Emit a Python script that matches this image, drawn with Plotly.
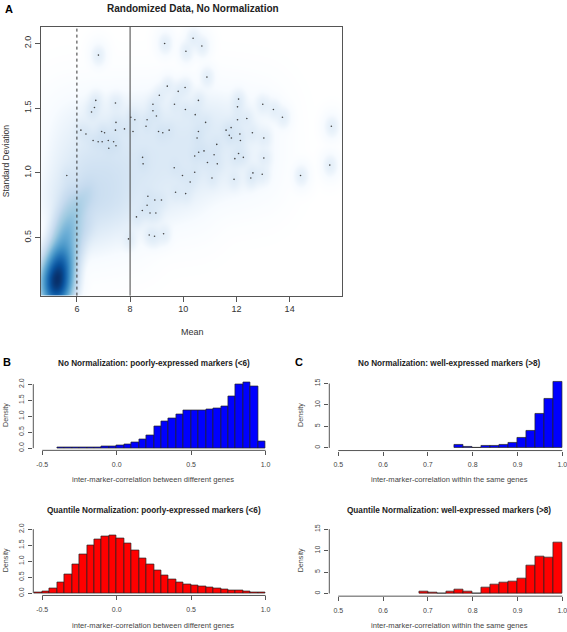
import numpy as np
import plotly.graph_objects as go

W, H = 567, 632

# ---------------- Panel A data ----------------
# low-density genes shown as individual points (mean, sd)
dot_mean = [6.81, 9.30, 10.37, 10.70, 10.10, 10.89, 9.40, 10.07, 9.81, 9.10, 6.71, 7.45, 6.66, 6.55,
            8.86, 9.67, 10.57, 10.08, 8.86, 8.03, 8.18, 8.64, 8.99, 10.45, 7.47, 8.60, 6.15, 6.34,
            6.93, 7.04, 7.45, 7.79, 8.11, 9.07, 9.23, 9.47, 10.57, 10.84, 6.61, 6.80, 6.95, 7.18,
            7.38, 7.20, 7.47, 10.52, 10.43, 10.58, 10.78, 10.91, 11.16, 11.26, 11.28, 11.08, 9.66,
            9.97, 10.43, 10.26, 8.47, 8.49, 11.61, 11.73, 11.80, 11.81, 12.04, 12.08, 12.04, 12.13,
            12.15, 12.08, 11.94, 12.26, 12.39, 12.60, 13.03, 13.03, 12.99, 13.39, 13.73, 11.91,
            12.54, 12.62, 12.97, 14.41, 15.57, 15.51, 5.62, 8.67, 8.64, 8.93, 9.18, 9.71, 10.09,
            8.46, 8.75, 8.97, 8.24, 8.72, 8.92, 9.26, 7.94]
dot_sd = [1.91, 2.00, 2.04, 1.98, 1.94, 1.74, 1.67, 1.66, 1.63, 1.60, 1.56, 1.54, 1.505, 1.47,
          1.53, 1.53, 1.56, 1.49, 1.48, 1.43, 1.41, 1.41, 1.44, 1.45, 1.39, 1.36, 1.33, 1.30,
          1.32, 1.31, 1.33, 1.34, 1.32, 1.32, 1.31, 1.33, 1.32, 1.39, 1.25, 1.24, 1.24, 1.25,
          1.24, 1.19, 1.21, 1.27, 1.13, 1.16, 1.17, 1.08, 1.14, 1.22, 1.07, 0.96, 1.04,
          0.98, 1.005, 0.93, 1.12, 1.07, 1.33, 1.29, 1.35, 1.27, 1.41, 1.57, 1.51, 1.30,
          1.25, 1.15, 1.11, 1.12, 1.42, 1.31, 1.27, 1.115, 1.53, 1.49, 1.43, 0.95,
          0.96, 1.00, 0.99, 0.98, 1.36, 1.06, 0.98, 0.82, 0.75, 0.79, 0.79, 0.85, 0.84,
          0.71, 0.69, 0.69, 0.66, 0.52, 0.51, 0.53, 0.49]

# dense core of the smoothed cloud (mean, sd, relative intensity)
core_mean = [5.24, 5.34, 5.14]
core_sd = [0.17, 0.27, 0.11]
core_w = [1000, 350, 250]

# ridge rising from the core
ridge_mean = [5.40, 5.50, 5.60, 5.72, 5.85, 6.00, 6.20, 6.45,
              5.25, 5.35, 5.45, 5.60, 5.75,
              5.70, 5.90, 6.10, 6.35]
ridge_sd = [0.30, 0.40, 0.50, 0.58, 0.66, 0.73, 0.79, 0.85,
            0.38, 0.50, 0.62, 0.72, 0.82,
            0.35, 0.45, 0.55, 0.62]
ridge_w = [150, 100, 65, 42, 26, 16, 10, 6,
           50, 30, 18, 10, 6,
           40, 22, 12, 6]

# broad light cloud
cloud_mean = [5.6, 6.4, 7.2, 8.0, 8.8, 9.6, 10.4, 11.2, 12.0, 12.8,
              5.6, 6.4, 7.2, 8.0, 8.8, 9.6, 10.4, 11.2, 12.0, 12.8,
              5.6, 6.4, 7.2, 8.0, 8.8, 9.6, 10.4, 11.2, 12.0, 12.8,
              5.6, 6.4, 7.2, 8.0, 8.8, 9.6, 10.4,
              6.4, 7.2, 8.0]
cloud_sd = [1.4] * 10 + [1.2] * 10 + [1.0] * 10 + [0.8] * 7 + [0.6] * 3
cloud_w = [0.3, 0.7, 0.9, 1.0, 1.3, 1.5, 1.7, 1.3, 0.7, 0.25,
           0.7, 1.8, 2.2, 2.2, 2.2, 2.2, 2.3, 1.9, 1.0, 0.35,
           1.3, 5.0, 5.0, 3.0, 2.2, 1.7, 1.5, 1.0, 0.5, 0.2,
           3.4, 8.0, 6.0, 2.2, 1.3, 0.7, 0.35,
           2.2, 1.0, 0.4]

# ---------------- Histogram data ----------------
b_edges = [-0.40, -0.35, -0.30, -0.25, -0.20, -0.15, -0.10, -0.05, 0.00, 0.05, 0.10, 0.15, 0.20, 0.25,
           0.30, 0.35, 0.40, 0.45, 0.50, 0.55, 0.60, 0.65, 0.70, 0.75, 0.80, 0.85, 0.90, 0.95]
b_density = [0.01, 0.01, 0.01, 0.02, 0.02, 0.03, 0.04, 0.06, 0.08, 0.12, 0.18, 0.27, 0.40, 0.67,
             0.84, 0.93, 1.06, 1.18, 1.17, 1.19, 1.22, 1.24, 1.31, 1.62, 2.00, 2.07, 1.92, 0.22]

d_edges = [-0.55, -0.50, -0.45, -0.40, -0.35, -0.30, -0.25, -0.20, -0.15, -0.10, -0.05, 0.00, 0.05,
           0.10, 0.15, 0.20, 0.25, 0.30, 0.35, 0.40, 0.45, 0.50, 0.55, 0.60, 0.65, 0.70, 0.75, 0.80,
           0.85, 0.90, 0.95]
d_density = [0.02, 0.07, 0.16, 0.33, 0.58, 0.91, 1.21, 1.48, 1.69, 1.78, 1.80, 1.71, 1.55, 1.33,
             1.10, 0.91, 0.72, 0.56, 0.44, 0.35, 0.29, 0.25, 0.21, 0.18, 0.16, 0.13, 0.10, 0.08,
             0.05, 0.02, 0.02]

c_edges = [0.76, 0.78, 0.80, 0.82, 0.84, 0.86, 0.88, 0.90, 0.92, 0.94, 0.96, 0.98]
c_density = [0.8, 0.3, 0.1, 0.4, 0.55, 0.8, 1.1, 2.4, 4.1, 8.0, 11.5, 15.5]

e_edges = [0.68, 0.70, 0.72, 0.74, 0.76, 0.78, 0.80, 0.82, 0.84, 0.86, 0.88, 0.90, 0.92, 0.94, 0.96, 0.98]
e_density = [0.45, 0.25, 0.0, 0.45, 0.85, 0.45, 0.0, 1.3, 2.15, 2.55, 2.75, 3.55, 6.55, 8.6, 8.45, 11.8]

corr_ticks_wide = [-0.5, 0.0, 0.5, 1.0]
corr_ticks_narrow = [0.5, 0.6, 0.7, 0.8, 0.9, 1.0]

# ---------------- helpers ----------------
def fx(px):
    return px / W

def fy(py):
    return 1 - py / H

FONT = "Liberation Sans, Arial, sans-serif"

# ---------------- density image for panel A ----------------
xr = [4.65, 15.97]
yr = [0.052, 2.128]
gx = np.linspace(xr[0], xr[1], 300)
gy = np.linspace(yr[0], yr[1], 270)
GX, GY = np.meshgrid(gx, gy)
dens = np.zeros_like(GX)

def add(xs, ys, ws, sx, sy):
    global dens
    for xi, yi, wi in zip(xs, ys, ws):
        dens += wi * np.exp(-0.5 * (((GX - xi) / sx) ** 2 + ((GY - yi) / sy) ** 2))

add(core_mean, core_sd, core_w, 0.25, 0.085)
add(ridge_mean, ridge_sd, ridge_w, 0.2, 0.07)
add(cloud_mean, cloud_sd, cloud_w, 0.45, 0.12)
add(dot_mean, dot_sd, [1.8] * len(dot_mean), 0.15, 0.045)
z = (dens / dens.max()) ** 0.25

blues = ["#FFFFFF", "#F7FBFF", "#DEEBF7", "#C6DBEF", "#9ECAE1", "#6BAED6",
         "#4292C6", "#2171B5", "#08519C", "#08306B"]
cscale = [[i / 9, c] for i, c in enumerate(blues)]

fig = go.Figure()
fig.add_trace(go.Heatmap(x=gx, y=gy, z=z, colorscale=cscale, zmin=0, zmax=1,
                         showscale=False, zsmooth="best", hoverinfo="skip",
                         xaxis="x", yaxis="y"))
fig.add_trace(go.Scatter(x=dot_mean, y=dot_sd, mode="markers",
                         marker=dict(size=1.6, color="#444444"),
                         xaxis="x", yaxis="y", showlegend=False, hoverinfo="skip"))

def add_hist(edges, dens_vals, width, color, xa, ya):
    centers = [e + width / 2 for e in edges]
    fig.add_trace(go.Bar(x=centers, y=dens_vals, width=width,
                         marker=dict(color=color, line=dict(color="#222222", width=0.7)),
                         xaxis=xa, yaxis=ya, showlegend=False, hoverinfo="skip"))

add_hist(b_edges, b_density, 0.05, "#0000FF", "x2", "y2")
add_hist(c_edges, c_density, 0.02, "#0000FF", "x3", "y3")
add_hist(d_edges, d_density, 0.05, "#FF0000", "x4", "y4")
add_hist(e_edges, e_density, 0.02, "#FF0000", "x5", "y5")

axcol = "#555555"
main_tick = dict(family=FONT, size=9, color="#333333")
small_tick = dict(family=FONT, size=7, color="#444444")

layout = dict(
    width=W, height=H, margin=dict(l=0, r=0, t=0, b=0),
    paper_bgcolor="white", plot_bgcolor="white", showlegend=False, bargap=0,
    font=dict(family=FONT),
    xaxis=dict(domain=[fx(41), fx(342)], range=xr, anchor="y", showgrid=False, zeroline=False,
               showline=True, mirror=True, linecolor=axcol, linewidth=1,
               ticks="outside", ticklen=5, tickcolor=axcol,
               tickvals=[6, 8, 10, 12, 14], tickfont=main_tick),
    yaxis=dict(domain=[fy(296), fy(26)], range=yr, anchor="x", showgrid=False, zeroline=False,
               showline=True, mirror=True, linecolor=axcol, linewidth=1,
               ticks="outside", ticklen=5, tickcolor=axcol, tickangle=-90,
               tickvals=[0.5, 1.0, 1.5, 2.0], ticktext=["0.5", "1.0", "1.5", "2.0"],
               tickfont=main_tick),
)

def hist_axes(n, xdom, ydom, xrange, yrange, xticks, yticks, ytext):
    layout[f"xaxis{n}"] = dict(domain=xdom, range=xrange, anchor=f"y{n}", showgrid=False,
                               zeroline=False, showline=False, ticks="outside", ticklen=4,
                               tickcolor=axcol, tickvals=xticks,
                               ticktext=[f"{v:.1f}" for v in xticks],
                               tickfont=small_tick, ticklabelstandoff=3,
                               ticklabeloverflow="allow")
    layout[f"yaxis{n}"] = dict(domain=ydom, range=yrange, anchor=f"x{n}", showgrid=False,
                               zeroline=False, showline=False, ticks="outside", ticklen=4,
                               tickcolor=axcol, tickvals=yticks, ticktext=ytext,
                               tickangle=-90, tickfont=small_tick, ticklabelstandoff=2)

hist_axes(2, [fx(33.3), fx(274.5)], [fy(451.5), fy(380.2)], [-0.56, 1.06], [-0.07, 2.15],
          corr_ticks_wide, [0, 0.5, 1.0, 1.5, 2.0], ["0.0", "0.5", "1.0", "1.5", "2.0"])
hist_axes(3, [fx(329.3), 1.0], [fy(451.7), fy(379.6)], [0.48, 1.0105], [-0.62, 16.1],
          corr_ticks_narrow, [0, 5, 10, 15], ["0", "5", "10", "15"])
hist_axes(4, [fx(33.3), fx(274.5)], [fy(597.3), fy(525.9)], [-0.56, 1.06], [-0.07, 2.15],
          corr_ticks_wide, [0, 0.5, 1.0, 1.5, 2.0], ["0.0", "0.5", "1.0", "1.5", "2.0"])
hist_axes(5, [fx(329.3), 1.0], [fy(598), fy(526)], [0.48, 1.0105], [-0.62, 16.1],
          corr_ticks_narrow, [0, 5, 10, 15], ["0", "5", "10", "15"])

shapes = [
    dict(type="line", xref="x", yref="y domain", x0=6, x1=6, y0=0, y1=1,
         line=dict(color="#333333", width=1, dash="3px,3px"), layer="above"),
    dict(type="line", xref="x", yref="y domain", x0=8, x1=8, y0=0, y1=1,
         line=dict(color="#444444", width=1), layer="above"),
]
for n, xt, yt in [(2, corr_ticks_wide, [0, 2.0]), (3, corr_ticks_narrow, [0, 15]),
                  (4, corr_ticks_wide, [0, 2.0]), (5, corr_ticks_narrow, [0, 15])]:
    shapes.append(dict(type="line", xref=f"x{n}", yref=f"y{n} domain", x0=xt[0], x1=xt[-1],
                       y0=0, y1=0, line=dict(color=axcol, width=1)))
    shapes.append(dict(type="line", xref=f"x{n} domain", yref=f"y{n}", x0=0, x1=0,
                       y0=yt[0], y1=yt[-1], line=dict(color=axcol, width=1)))
layout["shapes"] = shapes

def ann(text, px, py, size, bold=False, angle=0, color="#222222", xanchor="center"):
    return dict(text=f"<b>{text}</b>" if bold else text, x=fx(px), y=fy(py),
                xref="paper", yref="paper", showarrow=False, textangle=angle,
                xanchor=xanchor, yanchor="middle",
                font=dict(family=FONT, size=size, color=color))

layout["annotations"] = [
    ann("A", 9, 8, 11, bold=True, color="#000000"),
    ann("Randomized Data, No Normalization", 193, 8, 10, bold=True),
    ann("Mean", 192, 333, 9, color="#333333"),
    ann("Standard Deviation", 6, 161, 8.5, angle=-90, color="#333333"),
    ann("B", 7, 363, 11, bold=True, color="#000000"),
    ann("No Normalization: poorly-expressed markers (&lt;6)", 154, 364, 8.2, bold=True),
    ann("Density", 5, 416, 7.2, angle=-90, color="#444444"),
    ann("inter-marker-correlation between different genes", 153, 481, 7.6, color="#444444"),
    ann("C", 299, 363, 11, bold=True, color="#000000"),
    ann("No Normalization: well-expressed markers (&gt;8)", 449, 364, 8.2, bold=True),
    ann("Density", 300, 416, 7.2, angle=-90, color="#444444"),
    ann("inter-marker-correlation within the same genes", 449, 481, 7.6, color="#444444"),
    ann("Quantile Normalization: poorly-expressed markers (&lt;6)", 154, 512, 8.2, bold=True),
    ann("Density", 5, 562, 7.2, angle=-90, color="#444444"),
    ann("inter-marker-correlation between different genes", 153, 627, 7.6, color="#444444"),
    ann("Quantile Normalization: well-expressed markers (&gt;8)", 449, 512, 8.2, bold=True),
    ann("Density", 300, 562, 7.2, angle=-90, color="#444444"),
    ann("inter-marker-correlation within the same genes", 449, 627, 7.6, color="#444444"),
]

fig.update_layout(**layout)
fig.write_html("out.html", config={"displayModeBar": False},
               post_script="document.body.style.margin='0';document.body.style.overflow='hidden';")
